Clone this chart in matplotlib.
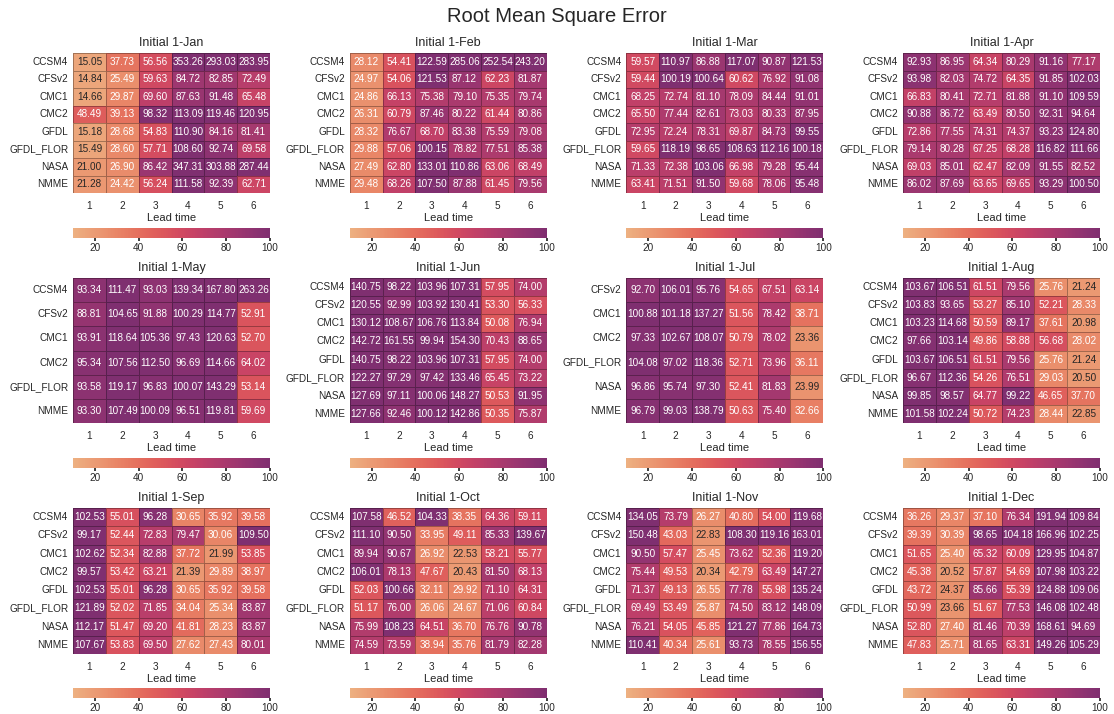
import numpy as np
import pandas as pd
import matplotlib
matplotlib.use('Agg')
import matplotlib.pyplot as plt
from matplotlib.colors import ListedColormap
import seaborn as sns

#======================================================================================
#data: RMSE per model (rows) and lead time 1..6 (columns), one table per start month
leads = [1, 2, 3, 4, 5, 6]
rows8 = ['CCSM4', 'CFSv2', 'CMC1', 'CMC2', 'GFDL', 'GFDL_FLOR', 'NASA', 'NMME']
rowsMay = ['CCSM4', 'CFSv2', 'CMC1', 'CMC2', 'GFDL_FLOR', 'NMME']
rowsJul = ['CFSv2', 'CMC1', 'CMC2', 'GFDL_FLOR', 'NASA', 'NMME']

jan = [[15.05, 37.73, 56.56, 353.26, 293.03, 283.95],
       [14.84, 25.49, 59.63, 84.72, 82.85, 72.49],
       [14.66, 29.87, 69.60, 87.63, 91.48, 65.48],
       [48.49, 39.13, 98.32, 113.09, 119.46, 120.95],
       [15.18, 28.68, 54.83, 110.90, 84.16, 81.41],
       [15.49, 28.60, 57.71, 108.60, 92.74, 69.58],
       [21.00, 26.90, 86.42, 347.31, 303.88, 287.44],
       [21.28, 24.42, 56.24, 111.58, 92.39, 62.71]]
feb = [[28.12, 54.41, 122.59, 285.06, 252.54, 243.20],
       [24.97, 54.06, 121.53, 87.12, 62.23, 81.87],
       [24.86, 66.13, 75.38, 79.10, 75.35, 79.74],
       [26.31, 60.79, 87.46, 80.22, 61.44, 80.86],
       [28.32, 76.67, 68.70, 83.38, 75.59, 79.08],
       [29.88, 57.06, 100.15, 78.82, 77.51, 85.38],
       [27.49, 62.80, 133.01, 110.86, 63.06, 68.49],
       [29.48, 68.26, 107.50, 87.88, 61.45, 79.56]]
mar = [[59.57, 110.97, 86.88, 117.07, 90.87, 121.53],
       [59.44, 100.19, 100.64, 60.62, 76.92, 91.08],
       [68.25, 72.74, 81.10, 78.09, 84.44, 91.01],
       [65.50, 77.44, 82.61, 73.03, 80.33, 87.95],
       [72.95, 72.24, 78.31, 69.87, 84.73, 99.55],
       [59.65, 118.19, 98.65, 108.63, 112.16, 100.18],
       [71.33, 72.38, 103.06, 66.98, 79.28, 95.44],
       [63.41, 71.51, 91.50, 59.68, 78.06, 95.48]]
apr = [[92.93, 86.95, 64.34, 80.29, 91.16, 77.17],
       [93.98, 82.03, 74.72, 64.35, 91.85, 102.03],
       [66.83, 80.41, 72.71, 81.88, 91.10, 109.59],
       [90.88, 86.72, 63.49, 80.50, 92.31, 94.64],
       [72.86, 77.55, 74.31, 74.37, 93.23, 124.80],
       [79.14, 80.28, 67.25, 68.28, 116.82, 111.66],
       [69.03, 85.01, 62.47, 82.09, 91.55, 82.52],
       [86.02, 87.69, 63.65, 69.65, 93.29, 100.50]]
may = [[93.34, 111.47, 93.03, 139.34, 167.80, 263.26],
       [88.81, 104.65, 91.88, 100.29, 114.77, 52.91],
       [93.91, 118.64, 105.36, 97.43, 120.63, 52.70],
       [95.34, 107.56, 112.50, 96.69, 114.66, 64.02],
       [93.58, 119.17, 96.83, 100.07, 143.29, 53.14],
       [93.30, 107.49, 100.09, 96.51, 119.81, 59.69]]
jun = [[140.75, 98.22, 103.96, 107.31, 57.95, 74.00],
       [120.55, 92.99, 103.92, 130.41, 53.30, 56.33],
       [130.12, 108.67, 106.76, 113.84, 50.08, 76.94],
       [142.72, 161.55, 99.94, 154.30, 70.43, 88.65],
       [140.75, 98.22, 103.96, 107.31, 57.95, 74.00],
       [122.27, 97.29, 97.42, 133.46, 65.45, 73.22],
       [127.69, 97.11, 100.06, 148.27, 50.53, 91.95],
       [127.66, 92.46, 100.12, 142.86, 50.35, 75.87]]
jul = [[92.70, 106.01, 95.76, 54.65, 67.51, 63.14],
       [100.88, 101.18, 137.27, 51.56, 78.42, 38.71],
       [97.33, 102.67, 108.07, 50.79, 78.02, 23.36],
       [104.08, 97.02, 118.36, 52.71, 73.96, 36.11],
       [96.86, 95.74, 97.30, 52.41, 81.83, 23.99],
       [96.79, 99.03, 138.79, 50.63, 75.40, 32.66]]
aug = [[103.67, 106.51, 61.51, 79.56, 25.76, 21.24],
       [103.83, 93.65, 53.27, 85.10, 52.21, 28.33],
       [103.23, 114.68, 50.59, 89.17, 37.61, 20.98],
       [97.66, 103.14, 49.86, 58.88, 56.68, 28.02],
       [103.67, 106.51, 61.51, 79.56, 25.76, 21.24],
       [96.67, 112.36, 54.26, 76.51, 29.03, 20.50],
       [99.85, 98.57, 64.77, 99.22, 46.65, 37.70],
       [101.58, 102.24, 50.72, 74.23, 28.44, 22.85]]
sep = [[102.53, 55.01, 96.28, 30.65, 35.92, 39.58],
       [99.17, 52.44, 72.83, 79.47, 30.06, 109.50],
       [102.62, 52.34, 82.88, 37.72, 21.99, 53.85],
       [99.57, 53.42, 63.21, 21.39, 29.89, 38.97],
       [102.53, 55.01, 96.28, 30.65, 35.92, 39.58],
       [121.89, 52.02, 71.85, 34.04, 25.34, 83.87],
       [112.17, 51.47, 69.20, 41.81, 28.23, 83.87],
       [107.67, 53.83, 69.50, 27.62, 27.43, 80.01]]
oct_ = [[107.58, 46.52, 104.33, 38.35, 64.36, 59.11],
        [111.10, 90.50, 33.95, 49.11, 85.33, 139.67],
        [89.94, 90.67, 26.92, 22.53, 58.21, 55.77],
        [106.01, 78.13, 47.67, 20.43, 81.50, 68.13],
        [52.03, 100.66, 32.11, 29.92, 71.10, 64.31],
        [51.17, 76.00, 26.06, 24.67, 71.06, 60.84],
        [75.99, 108.23, 64.51, 36.70, 76.76, 90.78],
        [74.59, 73.59, 38.94, 35.76, 81.79, 82.28]]
nov = [[134.05, 73.79, 26.27, 40.80, 54.00, 119.68],
       [150.48, 43.03, 22.83, 108.30, 119.16, 163.01],
       [90.50, 57.47, 25.45, 73.62, 52.36, 119.20],
       [75.44, 49.53, 20.34, 42.79, 63.49, 147.27],
       [71.37, 49.13, 26.55, 77.78, 55.98, 135.24],
       [69.49, 53.49, 25.87, 74.50, 83.12, 148.09],
       [76.21, 54.05, 45.85, 121.27, 77.86, 164.73],
       [110.41, 40.34, 25.61, 93.73, 78.55, 156.55]]
dec = [[36.26, 29.37, 37.10, 76.34, 191.94, 109.84],
       [39.39, 30.39, 98.65, 104.18, 166.96, 102.25],
       [51.65, 25.40, 65.32, 60.09, 129.95, 104.87],
       [45.38, 20.52, 57.87, 54.69, 107.98, 103.22],
       [43.72, 24.37, 85.66, 55.39, 124.88, 109.06],
       [50.99, 23.66, 51.67, 77.53, 146.08, 102.48],
       [52.80, 27.40, 81.46, 70.39, 168.61, 94.69],
       [47.83, 25.71, 81.65, 63.31, 149.26, 105.29]]

months = ['Jan', 'Feb', 'Mar', 'Apr', 'May', 'Jun', 'Jul', 'Aug', 'Sep', 'Oct', 'Nov', 'Dec']
tables = [jan, feb, mar, apr, may, jun, jul, aug, sep, oct_, nov, dec]
rowNames = [rows8, rows8, rows8, rows8, rowsMay, rows8, rowsJul, rows8, rows8, rows8, rows8, rows8]
#======================================================================================

sns.set_theme(style='white')
plt.rcParams['font.family'] = ['Liberation Sans', 'DejaVu Sans']

#flare without its darkest quarter
flare = sns.color_palette('flare', as_cmap=True)
cmap = ListedColormap(flare(np.linspace(0, 0.78, 256)))

W, H = 1114, 714
fig = plt.figure(figsize=(W / 100, H / 100), dpi=100)

def pxAxes(x, y, w, h):
    return fig.add_axes([x / W, 1 - (y + h) / H, w / W, h / H])

lefts = [73, 349.7, 626.3, 903]
tops = [53, 278, 508]
heights = [140, 145, 146]
cbarTops = [228, 458, 688]
cellW = 197

for i, (m, tab, names) in enumerate(zip(months, tables, rowNames)):
    r, c = divmod(i, 4)
    df = pd.DataFrame(tab, index=names, columns=leads)
    ax = pxAxes(lefts[c], tops[r], cellW, heights[r])
    cax = pxAxes(lefts[c], cbarTops[r], cellW, 10)
    sns.heatmap(df, ax=ax, cmap=cmap, vmin=10, vmax=100, annot=True, fmt='.2f',
                annot_kws={'size': 7.2}, linewidths=0.5, linecolor=(0, 0, 0, 0.3),
                cbar_ax=cax, cbar_kws={'orientation': 'horizontal', 'ticks': [20, 40, 60, 80, 100]})
    # light text on dark cells, dark text on the lightest ones
    for t in ax.texts:
        t.set_color('.15' if float(t.get_text()) < 24.4 else 'white')
    ax.set_title('Initial 1-' + m, fontsize=9, pad=5)
    ax.set_xlabel('Lead time', fontsize=8, labelpad=1)
    ax.set_ylabel('')
    ax.tick_params(axis='x', length=0, pad=6, labelsize=7.2, rotation=0)
    ax.tick_params(axis='y', length=0, pad=3.5, labelsize=7.2, rotation=0)
    cax.tick_params(length=2, pad=1.5, labelsize=7.2)
    ax.collections[0].colorbar.outline.set_visible(False)

fig.text(0.5, 1 - 16 / H, 'Root Mean Square Error', ha='center', va='center', fontsize=14.5)

plt.savefig('out.png', dpi=100)
